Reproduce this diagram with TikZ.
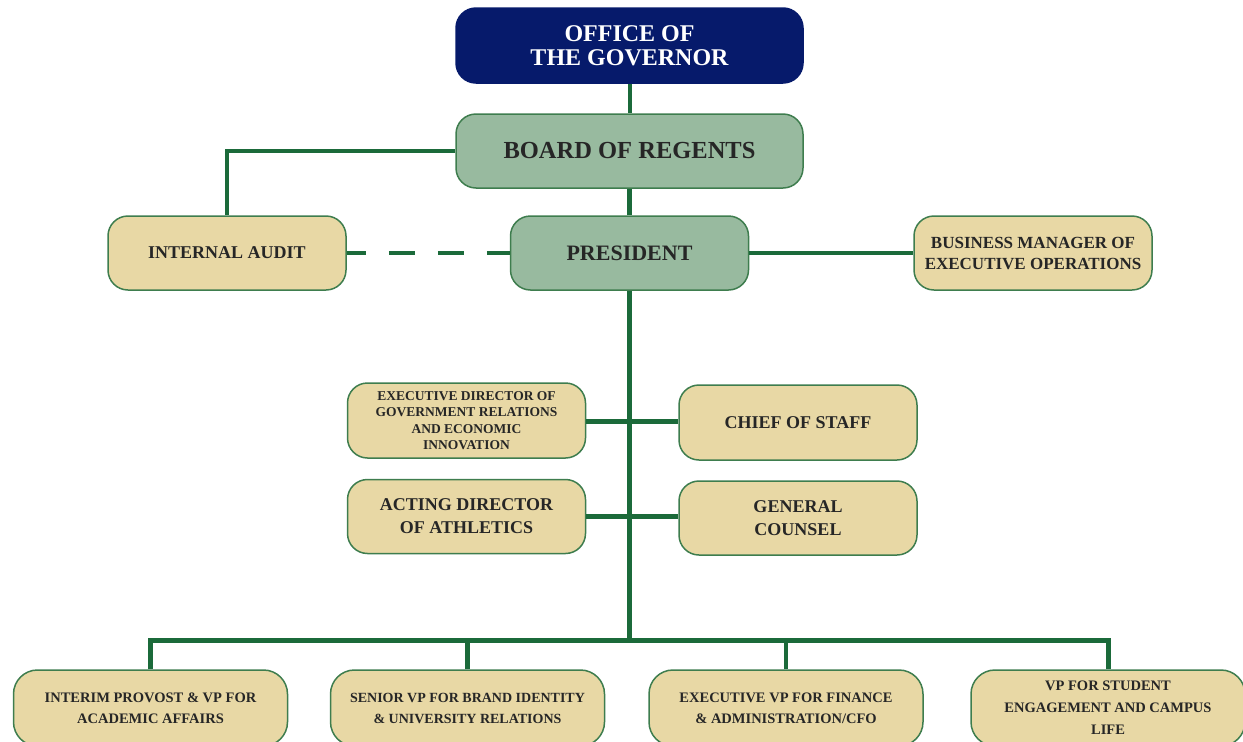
\documentclass[tikz,border=0pt]{standalone}
\usepackage{fontspec}
\setmainfont{Liberation Serif}

\definecolor{govblue}{HTML}{061A6B}
\definecolor{sage}{HTML}{98BA9F}
\definecolor{sand}{HTML}{E8D8A5}
\definecolor{pine}{HTML}{1B6A3A}
\definecolor{rim}{HTML}{3E7D4E}

\tikzset{
  unit/.style={draw=rim, line width=1.5pt, rounded corners=20pt,
    align=center, inner sep=0pt, text=black!85},
  govbox/.style={unit, fill=govblue, draw=govblue, text=white,
    minimum width=347pt, minimum height=75pt},
  leadbox/.style={unit, fill=sage, minimum height=74pt},
  staffbox/.style={unit, fill=sand, minimum width=238pt, minimum height=74pt},
  vpbox/.style={unit, fill=sand, minimum width=274pt, minimum height=76pt,
    rounded corners=24pt},
  link/.style={draw=pine, line width=4.5pt},
}

\begin{document}
\begin{tikzpicture}
[x=1pt,y=-1pt]

  \useasboundingbox (0,0) rectangle (1243,742);
  \clip (0,0) rectangle (1243,742);

  % top of the chart
  \node[govbox, font=\fontsize{24}{24}\selectfont\bfseries] (gov) at (629.5,45.5)
    {OFFICE OF\\THE GOVERNOR};
  \node[leadbox, minimum width=347pt, font=\fontsize{24.5}{24}\selectfont\bfseries] (board) at (629.5,151)
    {BOARD OF REGENTS};
  \node[leadbox, minimum width=238pt, font=\fontsize{22}{22}\selectfont\bfseries] (pres) at (629.5,253)
    {PRESIDENT};
  \node[staffbox, font=\fontsize{18}{18}\selectfont\bfseries] (audit) at (227,253)
    {INTERNAL AUDIT};
  \node[staffbox, font=\fontsize{17}{21}\selectfont\bfseries] (bizmgr) at (1033,253)
    {BUSINESS MANAGER OF\\EXECUTIVE OPERATIONS};

  % staff reporting to the president
  \node[staffbox, minimum height=75pt, font=\fontsize{13.5}{16.5}\selectfont\bfseries] (govrel) at (466.5,420.5)
    {EXECUTIVE DIRECTOR OF\\GOVERNMENT RELATIONS\\AND ECONOMIC\\INNOVATION};
  \node[staffbox, minimum height=75pt, font=\fontsize{18}{22}\selectfont\bfseries] (chief) at (798,422.5)
    {CHIEF OF STAFF};
  \node[staffbox, font=\fontsize{18}{23}\selectfont\bfseries] (athl) at (466.5,516.5)
    {ACTING DIRECTOR\\OF ATHLETICS};
  \node[staffbox, font=\fontsize{18}{23}\selectfont\bfseries] (counsel) at (798,518)
    {GENERAL\\COUNSEL};

  % vice presidents
  \node[vpbox, font=\fontsize{14.5}{21}\selectfont\bfseries] (provost) at (150.5,708)
    {INTERIM PROVOST \& VP FOR\\ACADEMIC AFFAIRS};
  \node[vpbox, font=\fontsize{14}{21}\selectfont\bfseries] (brand) at (467.5,708)
    {SENIOR VP FOR BRAND IDENTITY\\\& UNIVERSITY RELATIONS};
  \node[vpbox, font=\fontsize{14.5}{21}\selectfont\bfseries] (cfo) at (786,708)
    {EXECUTIVE VP FOR FINANCE\\\& ADMINISTRATION/CFO};
  \node[vpbox, font=\fontsize{14.5}{22}\selectfont\bfseries] (student) at (1108,708)
    {VP FOR STUDENT\\ENGAGEMENT AND CAMPUS\\LIFE};

  \coordinate (bus) at (629.5,640);

  % connectors
  \draw[link, line width=4pt] (gov) -- (board);
  \draw[link] (pres) -- (board);
  \draw[link] (board.west) -| (audit.north);
  \draw[link, dash pattern=on 26pt off 23pt, dash phase=7pt] (audit) -- (pres);
  \draw[link] (pres) -- (bizmgr);
  \draw[link] (pres.south) -- (bus);
  \draw[link] ([yshift=-1pt]govrel.east) -- ([yshift=-1pt]govrel.east -| chief.west);
  \draw[link] (athl.east) -- (athl.east -| counsel.west);
  \draw[link, line width=5pt] (provost.north) |- (bus) -| (student.north);
  \draw[link] (brand.north) -- (brand.north |- bus);
  \draw[link] (cfo.north) -- (cfo.north |- bus);

\end{tikzpicture}
\end{document}
